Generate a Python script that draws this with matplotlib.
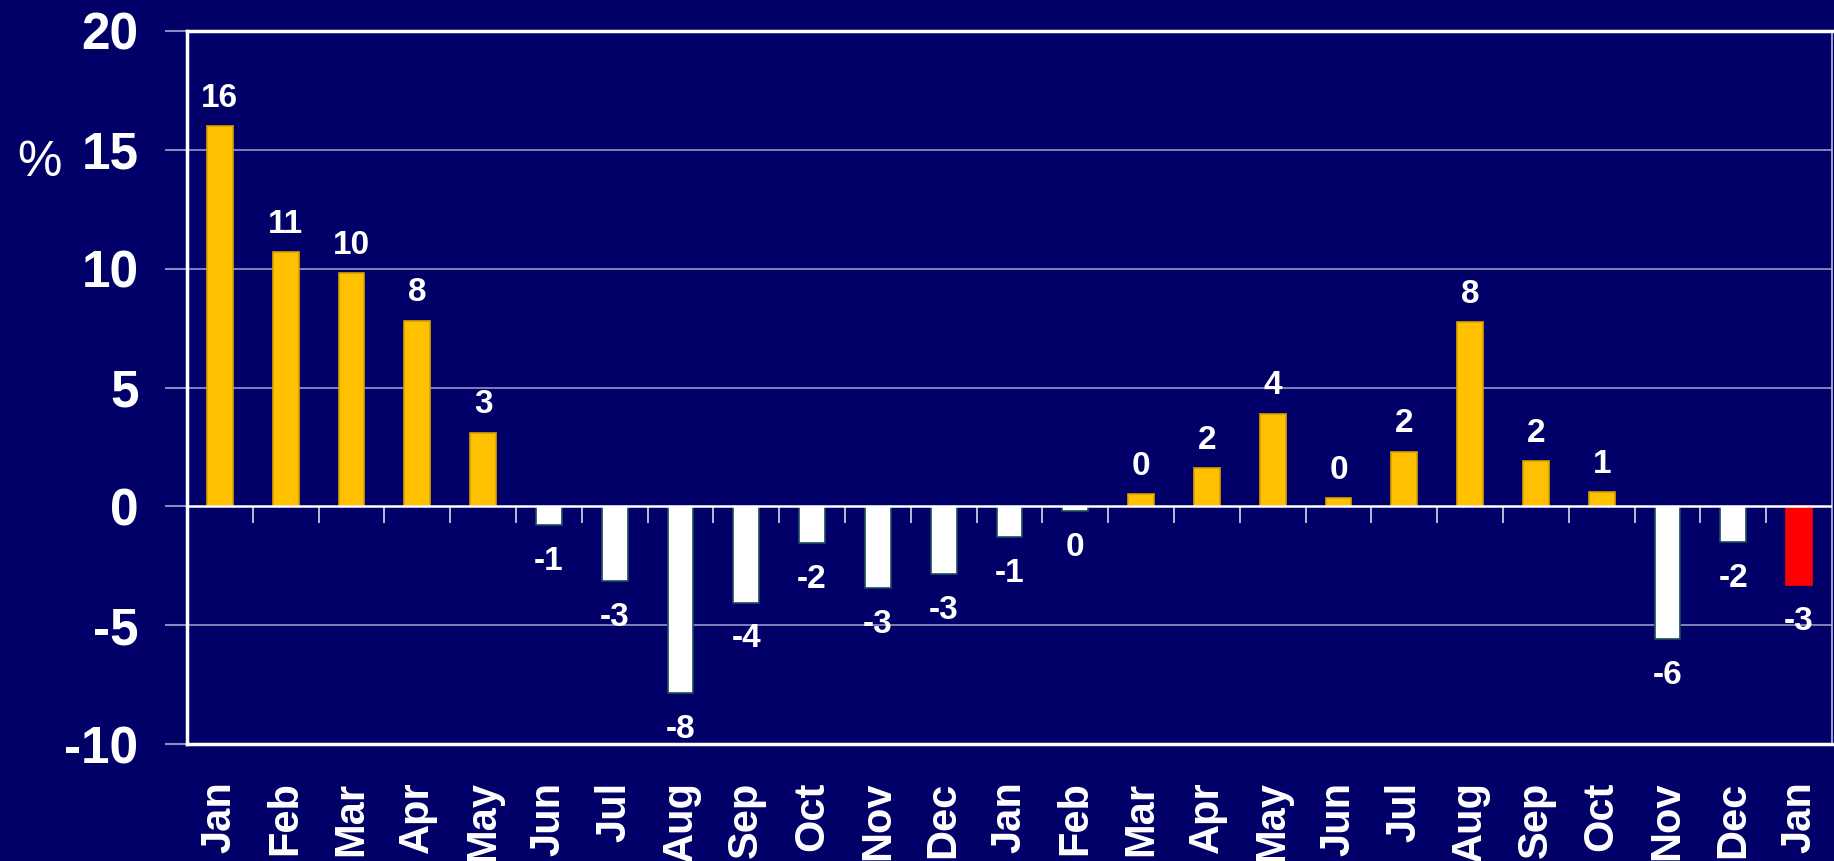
import matplotlib
matplotlib.use("Agg")
import matplotlib.pyplot as plt
import numpy as np

plt.rcParams['font.family'] = ['Liberation Sans', 'DejaVu Sans']

months = ["Jan", "Feb", "Mar", "Apr", "May", "Jun", "Jul", "Aug", "Sep", "Oct", "Nov", "Dec",
          "Jan", "Feb", "Mar", "Apr", "May", "Jun", "Jul", "Aug", "Sep", "Oct", "Nov", "Dec", "Jan"]
values = [16.0, 10.7, 9.8, 7.8, 3.1, -0.8, -3.15, -7.85, -4.05, -1.55, -3.45, -2.85,
          -1.3, -0.2, 0.5, 1.6, 3.9, 0.35, 2.3, 7.75, 1.9, 0.6, -5.6, -1.5, -3.3]
labels = ["16", "11", "10", "8", "3", "-1", "-3", "-8", "-4", "-2", "-3", "-3",
          "-1", "0", "0", "2", "4", "0", "2", "8", "2", "1", "-6", "-2", "-3"]
yticks = [-10, -5, 0, 5, 10, 15, 20]

BG = '#000068'
YELLOW = '#FFC000'
WHITE = '#FFFFFF'
RED = '#FF0000'
GRID = '#8a8ac0'

colors = []
edges = []
for i, v in enumerate(values):
    if i == len(values) - 1:
        colors.append(RED); edges.append(RED)
    elif v >= 0:
        colors.append(YELLOW); edges.append('#d9a200')
    else:
        colors.append(WHITE); edges.append('#1d4a60')

fig = plt.figure(figsize=(18.34, 8.61), dpi=100, facecolor=BG)
ax = fig.add_axes([187/1834, 1-744/861, (1832-187)/1834, (744-31)/861])
ax.set_facecolor(BG)

x = np.arange(len(values))
ax.bar(x, values, width=0.395, color=colors, edgecolor=edges, linewidth=1.2, zorder=3)

ax.set_xlim(-0.5, len(values) - 0.5)
ax.set_ylim(-10, 20)
ax.set_yticks(yticks)
ax.set_yticklabels([str(t) for t in yticks], fontsize=37, fontweight='bold', color='white')
ax.tick_params(axis='y', length=16, width=1.5, color=GRID, pad=19)
ax.set_xticks(x)
ax.set_xticklabels(months, rotation=90, fontsize=30, fontweight='bold', color='white')
ax.tick_params(axis='x', length=0, pad=27)

for yv in [5, 10, 15, -5]:
    ax.axhline(yv, color=GRID, linewidth=1.3, zorder=1)
ax.axhline(0, color='white', linewidth=1.8, zorder=4)

for s in ['top', 'left', 'bottom']:
    ax.spines[s].set_color('white')
    ax.spines[s].set_linewidth(2.5)
ax.spines['right'].set_color('#c0c0e0')
ax.spines['right'].set_linewidth(1.2)

# category boundary ticks on the zero line
sec = ax.secondary_xaxis((0 - (-10)) / 30)
sec.set_xticks(x[:-1] + 0.5)
sec.set_xticklabels([])
sec.tick_params(axis='x', direction='out', length=12, width=1.3, color='#c8c8e0')
sec.spines['bottom'].set_visible(False)

for xi, v, lab in zip(x, values, labels):
    if v >= 0:
        ax.annotate(lab, (xi, v), xytext=(0, 9), textcoords='offset points',
                    ha='center', va='bottom', fontsize=24, fontweight='bold', color='white', zorder=5)
    else:
        ax.annotate(lab, (xi, v), xytext=(0, -15), textcoords='offset points',
                    ha='center', va='top', fontsize=24, fontweight='bold', color='white', zorder=5)

fig.text(39/1834, 1-163/861, '%', ha='center', va='center', fontsize=36, color='white')

fig.savefig('out.png', dpi=100, facecolor=BG)
